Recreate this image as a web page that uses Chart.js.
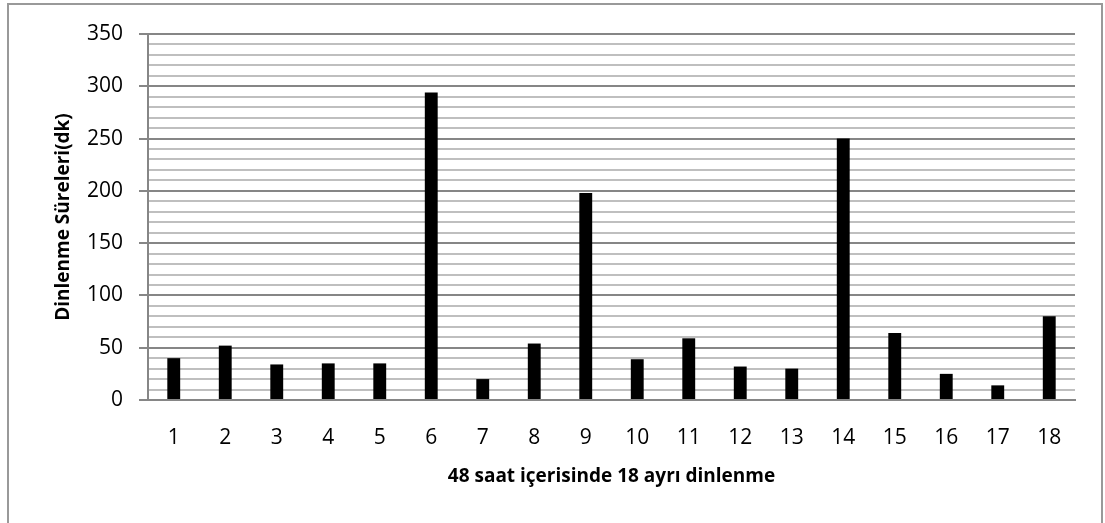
<!DOCTYPE html>
<html>
<head>
<meta charset="utf-8">
<script src="https://cdn.jsdelivr.net/npm/chart.js@4.4.1/dist/chart.umd.min.js"></script>
<style>
  html, body { margin: 0; padding: 0; background: #fff; overflow: hidden; }
  #wrap { position: relative; width: 1105px; height: 523px; }
  #frame { position: absolute; left: 7px; top: 3px; width: 1096px; height: 600px; border: 2px solid #999; box-sizing: border-box; }
  canvas { position: absolute; left: 0; top: 0; }
</style>
</head>
<body>
<div id="wrap">
  <div id="frame"></div>
  <canvas id="chartCanvas" width="1105" height="523"></canvas>
</div>
<script>
const categories = ['1','2','3','4','5','6','7','8','9','10','11','12','13','14','15','16','17','18'];
const restMinutes = [40, 52, 34, 35, 35, 294, 20, 54, 198, 39, 59, 32, 30, 250, 64, 25, 14, 80];
const yTicks = [0, 50, 100, 150, 200, 250, 300, 350];

const fontFamily = '"Open Sans", sans-serif';

const ctx = document.getElementById('chartCanvas');
new Chart(ctx, {
    type: 'bar',
    data: {
        labels: categories,
        datasets: [{
            label: 'Dinlenme Süreleri(dk)',
            data: restMinutes,
            backgroundColor: '#000000',
            borderWidth: 0,
            barPercentage: 0.25,
            categoryPercentage: 1
        }]
    },
    options: {
        responsive: false,
        animation: false,
        layout: { padding: { top: 34, right: 30, bottom: 0, left: 0 } },
        plugins: {
            legend: { display: false },
            tooltip: { enabled: false }
        },
        scales: {
            x: {
                grid: { display: false, drawTicks: false },
                border: { display: true, color: '#868686', width: 2 },
                ticks: { color: '#000', font: { family: fontFamily, size: 21 }, padding: 25, maxRotation: 0 },
                title: {
                    display: true,
                    text: '48 saat içerisinde 18 ayrı dinlenme',
                    color: '#000',
                    font: { family: fontFamily, size: 19, weight: 'bold' },
                    padding: { top: 0, bottom: 35 }
                },
                afterFit: (scale) => { scale.height = 123; }
            },
            y: {
                min: 0,
                max: 350,
                ticks: {
                    stepSize: 10,
                    autoSkip: false,
                    color: '#000',
                    font: { family: fontFamily, size: 21 },
                    padding: 16,
                    callback: (v) => yTicks.includes(v) ? String(v) : ''
                },
                grid: {
                    color: (c) => (c.tick && c.tick.value % 50 === 0) ? '#868686' : '#bfbfbf',
                    lineWidth: 2,
                    tickLength: 9,
                    tickColor: (c) => (c.tick && c.tick.value % 50 === 0) ? '#868686' : 'rgba(0,0,0,0)'
                },
                border: { display: true, color: '#868686', width: 2 },
                title: {
                    display: true,
                    text: 'Dinlenme Süreleri(dk)',
                    color: '#000',
                    font: { family: fontFamily, size: 19, weight: 'bold' },
                    padding: { top: 52, bottom: 0 }
                },
                afterFit: (scale) => { scale.width = 148; }
            }
        }
    }
});
</script>
</body>
</html>
